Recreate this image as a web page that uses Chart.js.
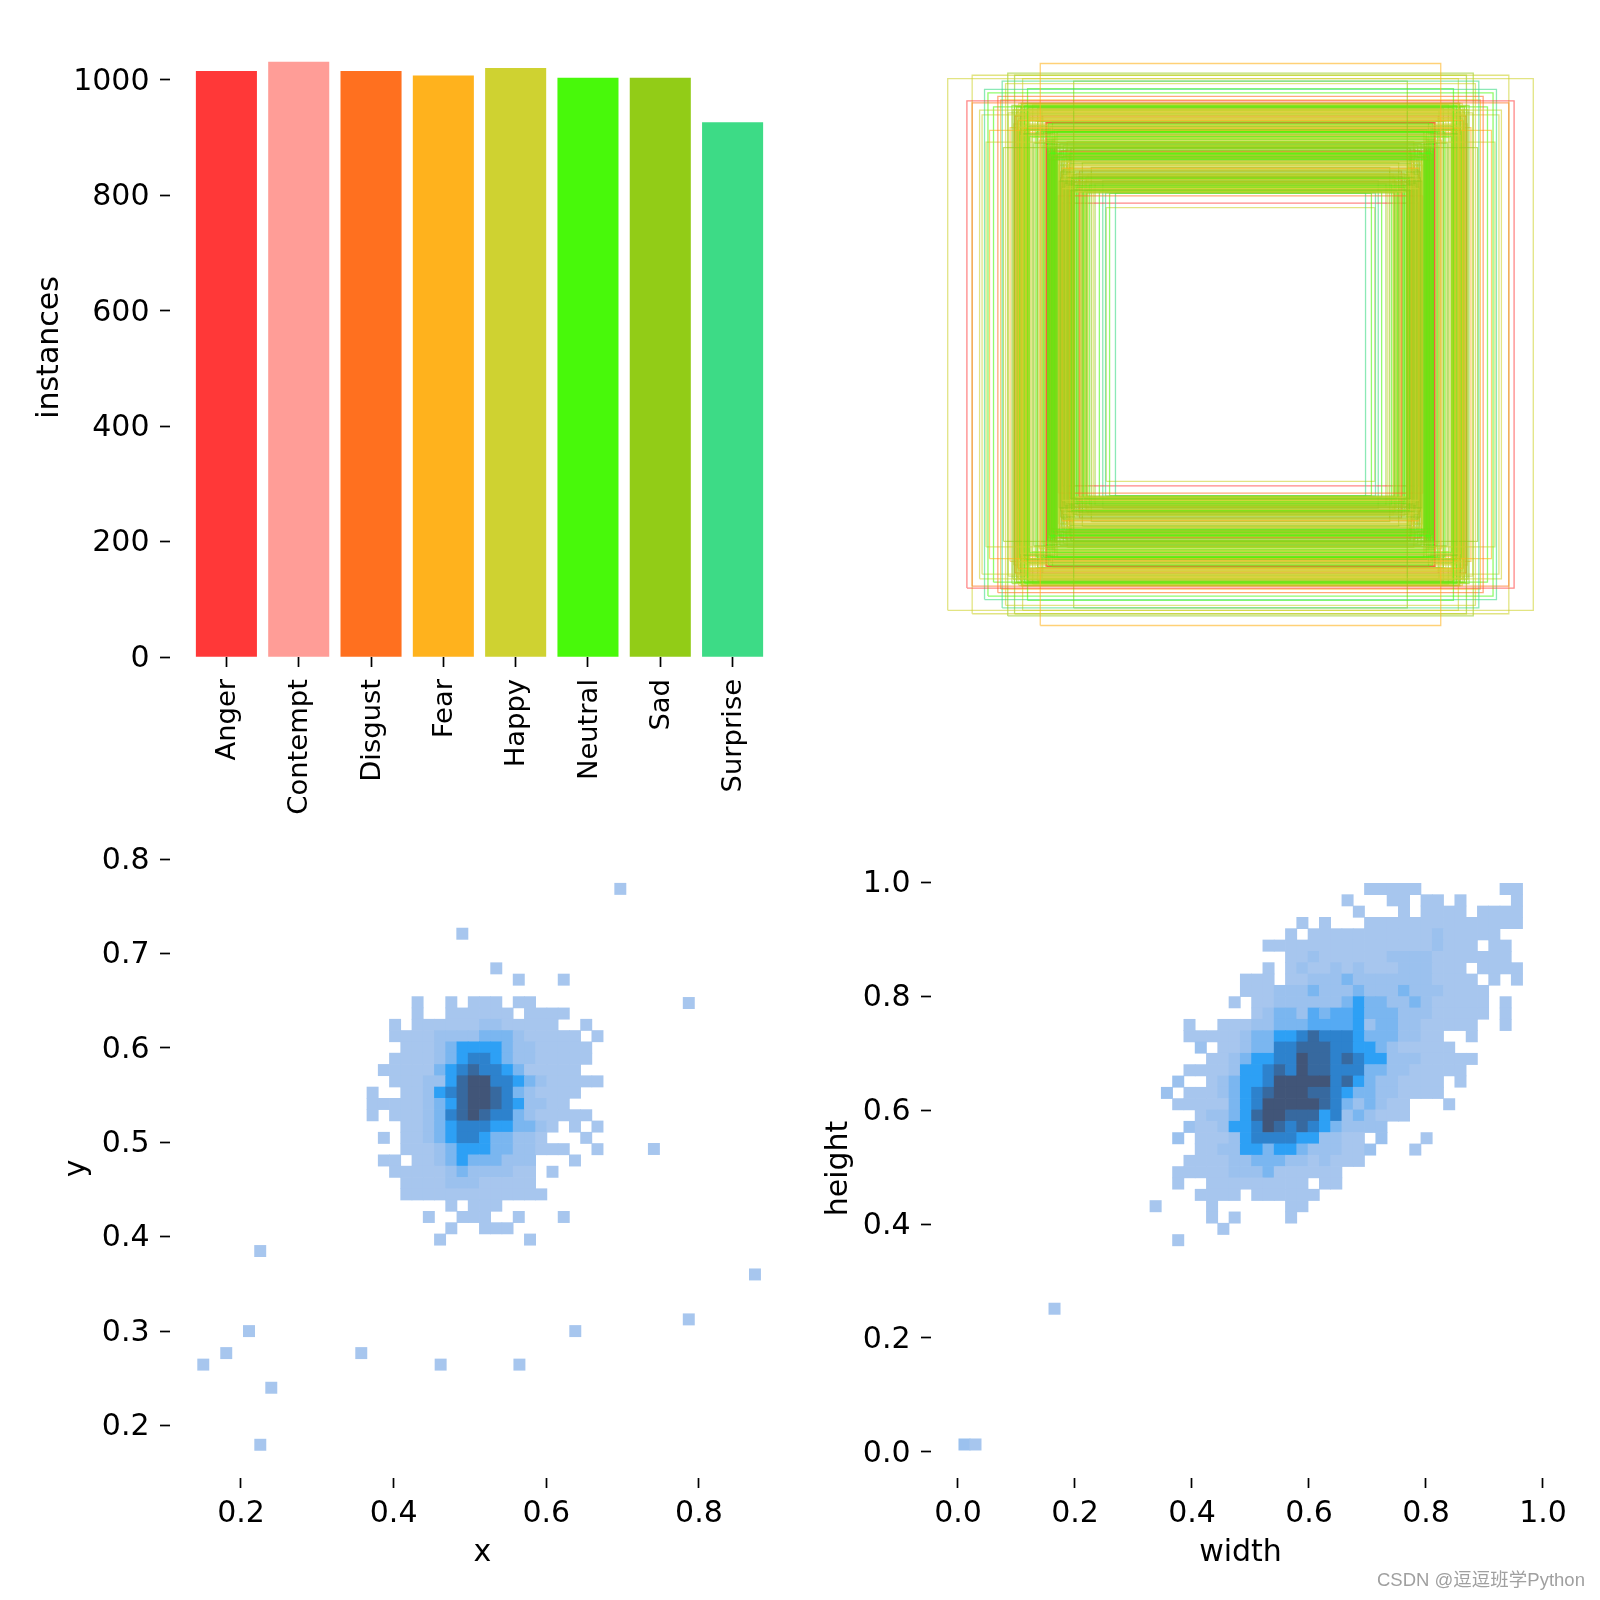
<!DOCTYPE html>
<html>
<head>
<meta charset="utf-8">
<title>labels</title>
<script src="https://cdn.jsdelivr.net/npm/chart.js@4/dist/chart.umd.min.js"></script>
<style>
  html, body { margin: 0; background: #fff; }
  #page { position: relative; width: 1600px; height: 1600px; overflow: hidden; }
  canvas { position: absolute; }
  #mark { position: absolute; left: 1377px; top: 1565px; font: 18.5px "Liberation Sans", "Noto Sans CJK SC", sans-serif; color: #a0a0a0; white-space: nowrap; }
</style>
</head>
<body>
<div id="page">
  <canvas id="bars" width="800" height="830" style="left:0;top:0"></canvas>
  <canvas id="boxes" width="800" height="830" style="left:800px;top:0"></canvas>
  <canvas id="xy" width="800" height="777" style="left:0;top:823px"></canvas>
  <canvas id="wh" width="800" height="777" style="left:800px;top:823px"></canvas>
  <div id="mark">CSDN @逗逗班学Python</div>
</div>
<script>
// class counts
const categories = ['Anger', 'Contempt', 'Disgust', 'Fear', 'Happy', 'Neutral', 'Sad', 'Surprise'];
const instances = [1015, 1031, 1015, 1007, 1020, 1003, 1003, 926];
const classColors = ['#ff3838', '#ff9d97', '#ff701f', '#ffb21d', '#cfd231', '#48f90a', '#92cc17', '#3ddb86'];
const classStroke = ['rgba(255,56,56,.6)', 'rgba(255,157,151,.6)', 'rgba(255,112,31,.6)', 'rgba(255,178,29,.6)',
  'rgba(207,210,49,.6)', 'rgba(72,249,10,.6)', 'rgba(146,204,23,.6)', 'rgba(61,219,134,.6)'];

const instanceTicks = [0, 200, 400, 600, 800, 1000];
const xTicks = [0.2, 0.4, 0.6, 0.8];
const yTicks = [0.2, 0.3, 0.4, 0.5, 0.6, 0.7, 0.8];
const sizeTicks = [0, 0.2, 0.4, 0.6, 0.8, 1];

// box sizes (all centred at 0.5)
const boxW = [
  .946, .884, .867, .867, .647, .752, .770, .827, .816, .843, .784, .759, .730, .704, .688, .539, .822, .811, .766, .835, .798, .775,
  .724, .7225, .721, .7195, .718, .7165, .715, .7135, .712, .7105, .709, .7075, .706, .7045, .703, .7015,
  .700, .6985, .697, .6955, .694, .6925, .691, .6895, .688, .6865, .685, .6835, .682, .6805, .729, .735,
  .676, .668, .660, .655, .650, .645, .640, .636, .633, .630,
  .623, .6215, .620, .6185, .617, .6155, .614, .6125, .611, .6095, .609, .6075, .606, .6045, .603, .6015, .600, .5985, .597, .5955, .594, .5925, .591, .622,
  .7235, .7205, .7175, .7145, .7115, .7085, .7055, .7025, .6995, .6965, .6935, .6905, .6875, .6845, .6815, .7265, .7325, .7385, .7445, .7505,
  .6225, .6195, .6165, .6135, .6105, .6075, .6045, .6015, .5985, .5955, .5925, .6235, .6180, .6120, .6060, .6000,
  .588, .5865, .585, .5835, .582, .5805, .579, .5775, .577, .5755, .574, .5725, .571, .5695, .568, .5665, .565, .5635, .562, .5605,
  .560, .5585, .557, .5555, .554, .5525, .551, .5495, .548, .5465, .545, .5435, .542, .5405, .539, .5375, .536, .588,
  .5875, .5845, .5815, .5785, .5755, .5725, .5695, .5665, .5635, .5605, .5575, .5545, .5515, .5485, .5455, .5425, .5395, .5365, .5860, .5770, .5680, .5590, .5500, .5410,
  .530, .524, .520, .516, .511, .507, .503, .498, .493, .488, .482, .476,
  .5745, .5705, .5655, .5615, .5565, .5525, .5475, .5435, .5385, .5345, .5305, .5265, .5225, .5185, .5145, .5105, .5065, .5025, .4985, .4945,
  .6415, .6385, .6715, .6635, .6555, .6945, .7085, .7165, .7245, .7305,
  .456, .436, .423, .404, .575, .434, .470, .445,
  .627, .627, .630, .625
];
const boxH = [
  .859, .787, .781, .870, .908, .877, .851, .824, .813, .757, .802, .843, .870, .859, .827, .851, .654, .692, .636, .742, .768, .790,
  .741, .768, .702, .756, .724, .779, .692, .747, .675, .765, .729, .699, .776, .735, .681, .753,
  .708, .771, .722, .744, .696, .762, .678, .732, .759, .705, .774, .726, .672, .750, .738, .758,
  .669, .651, .687, .720, .660, .690, .642, .687, .654, .666,
  .687, .634, .7125, .6465, .618, .7035, .639, .687, .6105, .6705, .6285, .7185, .645, .6015, .6645, .6945, .6375, .621, .6735, .606, .6525, .6885, .615, .624,
  .7695, .7225, .7575, .6855, .7455, .7335, .7785, .6975, .7605, .7065, .7515, .6795, .7275, .7665, .6945, .7395, .7125, .7725, .7005, .7485,
  .6555, .6135, .6855, .6345, .6075, .6645, .6255, .6765, .5985, .6435, .6165, .6615, .5955, .6525, .6045, .6375,
  .6135, .5275, .5905, .6495, .5575, .5335, .6265, .5695, .5035, .6075, .5455, .6435, .5815, .5215, .5995, .5635, .5095, .6315, .5755, .5395,
  .6555, .5935, .5155, .5515, .6195, .5845, .4975, .5665, .6345, .5365, .6025, .5485, .5785, .5245, .6405, .5605, .5125, .480,
  .5795, .6225, .5385, .5925, .5105, .5665, .6105, .5265, .5545, .5985, .4925, .5705, .6165, .5185, .5465, .5865, .5005, .5345, .6045, .5625, .5225, .5895, .4945, .5425,
  .508, .5425, .561, .502, .5875, .496, .5305, .490, .5515, .5185, .5725, .5065,
  .5495, .5235, .5345, .5075, .5425, .5145, .4985, .5385, .5285, .5035, .5525, .5195, .4905, .5355, .5115, .5455, .4955, .5255, .5405, .5015,
  .7565, .7385, .7745, .7215, .7635, .7085, .7795, .7315, .7505, .7695,
  .495, .490, .488, .4896, .457, .442, .520, .530,
  .716, .7155, .717, .716
];
const boxClass = [
  4, 0, 2, 4, 3, 6, 7, 7, 5, 4, 2, 4, 6, 4, 5, 6, 4, 3, 6, 4, 5, 3,
  4, 6, 4, 4, 3, 4, 5, 4, 4, 6, 4, 3, 4, 4, 6, 4,
  4, 5, 4, 4, 6, 4, 4, 3, 4, 6, 4, 4, 5, 4, 2, 6,
  4, 6, 5, 6, 4, 6, 4, 5, 6, 4,
  5, 6, 5, 6, 5, 6, 6, 5, 6, 5, 6, 6, 5, 6, 5, 6, 5, 6, 6, 5, 6, 6, 5, 2,
  4, 6, 4, 3, 6, 4, 5, 4, 6, 4, 3, 6, 4, 5, 6, 4, 4, 6, 3, 4,
  5, 6, 6, 5, 6, 6, 5, 6, 5, 6, 6, 5, 6, 5, 6, 6,
  4, 6, 4, 6, 6, 4, 6, 3, 4, 6, 4, 6, 4, 6, 6, 4, 4, 6, 4, 6,
  4, 6, 6, 4, 3, 6, 6, 4, 6, 5, 4, 6, 4, 6, 4, 6, 5, 2,
  4, 6, 6, 4, 6, 6, 4, 3, 6, 6, 4, 6, 6, 4, 6, 4, 6, 6, 4, 6, 4, 6, 4, 6,
  5, 6, 2, 4, 6, 5, 4, 6, 4, 5, 6, 4,
  6, 4, 6, 5, 4, 6, 6, 4, 6, 4, 6, 5, 6, 4, 6, 6, 4, 6, 5, 6,
  6, 4, 6, 4, 6, 4, 6, 6, 4, 6,
  5, 7, 5, 7, 0, 4, 6, 7,
  0, 0, 2, 2
];

// 2d histogram levels, one string per row from the top, '.' = empty bin
const levelColors = ['', '#a7c6ee', '#9bc1ee', '#7ab6f0', '#2da0f5', '#2d82cd', '#37699f', '#415578', '#55aaf3'];

const xyGrid = [
  '...........1.........',
  '.............1...1...',
  '.....................',
  '....1..1.111.11......',
  '....1..111111.1111...',
  '..1.1111112211111..1.',
  '..11112222333211111.1',
  '...11123444432211111.',
  '..111123455432211111.',
  '.111113456554311111..',
  '..1112246775543211111',
  '1..1124567765321111..',
  '111112346776542211...',
  '1.111235676553211111.',
  '...11234555443321.1.1',
  '.1.1123455433221...1.',
  '...111234443322111..1',
  '.11.11234333222...1..',
  '..1111123222211.1....',
  '...111122211111......',
  '...1111111111111.....',
  '.......1.111.........',
  '.....1..111..1...1...',
  '.......1..111........',
  '......1.......1......'
];
const xyStrayX = [.490, .697, .7867, .741, .2252, .8734, .7867, .638, .5648, .2105, .1807, .1506, .2397, .2253, .3576, .4616];
const xyStrayY = [.7209, .7684, .6475, .4929, .3848, .360, .3124, .300, .2645, .300, .2767, .2645, .240, .1796, .2767, .2645];

const whGrid = [
  '...................11111.......11',
  '.................1...11.11.1....1',
  '..................1...1.1111.1111',
  '.............1.1...11111111111111',
  '............1.11111111111211111..',
  '..........1111111111111112111.11.',
  '............11211111122221111111.',
  '..........1.1211212111222111.1111',
  '........111.11222322222221111.1.1',
  '........1112223222322232221111...',
  '.......1.112222223433223211111.1.',
  '.........123328388433322211111.1.',
  '...1..11122333888842332211111..1.',
  '...11111233445655543332211..1....',
  '....2.112335566655443211111......',
  '.....112344557665654422211111....',
  '...1111244565766555332211111.....',
  '..2..123445777775643221111.1.....',
  '.2.11123456777665433221111.......',
  '..111113457777765323211...1......',
  '....1223467766645232111..........',
  '...211244576565432222............',
  '..2.111245555442211.2...1........',
  '....1122443443222112...1.........',
  '...1111223332212111..............',
  '..111112223111111................',
  '..1..111111111.11................',
  '....1111.111111..................',
  '1....1......11...................',
  '.....1.1....1....................',
  '......1..........................',
  '..1..............................'
];
const whStrayX = [.165, .0111, .0299];
const whStrayY = [.2513, .0127, .0127];
const whStrayLevel = [1, 2, 1];

const FONT = '"DejaVu Sans", sans-serif';
const TICK_SIZE = 30;

Chart.defaults.font.family = FONT;
Chart.defaults.color = '#000';
Chart.defaults.animation = false;
Chart.defaults.responsive = false;
Chart.defaults.plugins.legend.display = false;
Chart.defaults.plugins.tooltip.enabled = false;

function axis(min, max, values, opts) {
    const o = opts || {};
    return {
        type: 'linear',
        min,
        max,
        offset: false,
        border: { display: false },
        grid: { offset: false, drawOnChartArea: false, drawTicks: true, tickLength: 10, tickWidth: 1.7, tickColor: '#000' },
        afterBuildTicks: (s) => { s.ticks = values.map((value) => ({ value })); },
        afterFit: (s) => { if (o.width) s.width = o.width; if (o.height) s.height = o.height; },
        ticks: {
            autoSkip: false,
            padding: o.tickPad,
            labelOffset: o.labelOffset || 0,
            font: { size: o.tickSize || TICK_SIZE },
            minRotation: o.rotate || 0,
            maxRotation: o.rotate || 0,
            callback: o.format || ((v) => v.toFixed(1)),
        },
        title: o.title ? { display: true, text: o.title, font: { size: 30 }, padding: o.titlePad, color: '#000' } : { display: false },
    };
}

// turn a level grid and the stray bins into floating bars
function histData(grid, x0, binW, y0, binH, strayX, strayY, strayLevel) {
    const data = [];
    const colors = [];
    grid.forEach((row, r) => {
        [...row].forEach((ch, c) => {
            if (ch === '.') return;
            data.push({ x: x0 + (c + 0.5) * binW, y: [y0 - (r + 1) * binH, y0 - r * binH] });
            colors.push(levelColors[+ch]);
        });
    });
    strayX.forEach((x, i) => {
        const y = strayY[i];
        data.push({ x, y: [y - binH / 2, y + binH / 2] });
        colors.push(levelColors[strayLevel ? strayLevel[i] : 1]);
    });
    return { data, colors };
}

new Chart(document.getElementById('bars'), {
    type: 'bar',
    data: {
        datasets: [{
            data: instances.map((v, i) => ({ x: i, y: v })),
            backgroundColor: classColors,
            barThickness: 60.4,
        }],
    },
    options: {
        layout: { padding: { top: 32, right: 11 } },
        scales: {
            x: axis(-0.78, 7.78, categories.map((c, i) => i), {
                height: 173,
                rotate: 90,
                tickSize: 27.4,
                tickPad: 12,
                labelOffset: 1.5,
                format: (v) => categories[v],
            }),
            y: axis(0, 1083, instanceTicks, {
                width: 170,
                tickPad: 10.5,
                labelOffset: 2,
                format: (v) => String(v),
                // thin space nudges the rotated title down a little
                title: 'instances\u2009',
                titlePad: { top: 32, bottom: 0 },
            }),
        },
    },
});

new Chart(document.getElementById('boxes'), {
    type: 'scatter',
    data: {
        datasets: boxW.map((w, i) => {
            const h = boxH[i];
            const x0 = 0.5 - w / 2, x1 = 0.5 + w / 2;
            const y0 = 0.5 - h / 2, y1 = 0.5 + h / 2;
            return {
                data: [{ x: x0, y: y0 }, { x: x1, y: y0 }, { x: x1, y: y1 }, { x: x0, y: y1 }, { x: x0, y: y0 }],
                showLine: true,
                borderColor: classStroke[boxClass[i]],
                borderWidth: 1.3,
                pointRadius: 0,
            };
        }),
    },
    options: {
        layout: { padding: { left: 131, top: 32, right: 50, bottom: 173 } },
        scales: {
            x: { type: 'linear', min: 0, max: 1, display: false },
            y: { type: 'linear', min: -0.00485, max: 1.00485, display: false },
        },
    },
});

const xyHist = histData(xyGrid, 0.3651, 0.01473, 0.6902, 0.01197, xyStrayX, xyStrayY);
new Chart(document.getElementById('xy'), {
    type: 'bar',
    data: { datasets: [{ data: xyHist.data, backgroundColor: xyHist.colors, barThickness: 11.3 }] },
    options: {
        layout: { padding: { top: 30, right: 11 } },
        scales: {
            x: axis(0.107, 0.918, xTicks, { height: 122, tickPad: 8, title: '\u2009x', titlePad: { top: 0, bottom: 29 } }),
            y: axis(0.1444, 0.8064, yTicks, { width: 170, tickPad: 10.5, labelOffset: 2, title: 'y\u2009', titlePad: { top: 59, bottom: 0 } }),
        },
    },
});

const whHist = histData(whGrid, 0.3282, 0.0193, 0.9989, 0.01991, whStrayX, whStrayY, whStrayLevel);
new Chart(document.getElementById('wh'), {
    type: 'bar',
    data: { datasets: [{ data: whHist.data, backgroundColor: whHist.colors, barThickness: 11.35 }] },
    options: {
        layout: { padding: { top: 30, right: 50 } },
        scales: {
            x: axis(-0.04615, 1.012, sizeTicks, { height: 122, tickPad: 8, title: 'width', titlePad: { top: 0, bottom: 29 } }),
            y: axis(-0.0462, 1.0522, sizeTicks, { width: 131, tickPad: 10.5, labelOffset: 2, title: 'height\u2009', titlePad: { top: 21, bottom: 0 } }),
        },
    },
});
</script>
</body>
</html>
